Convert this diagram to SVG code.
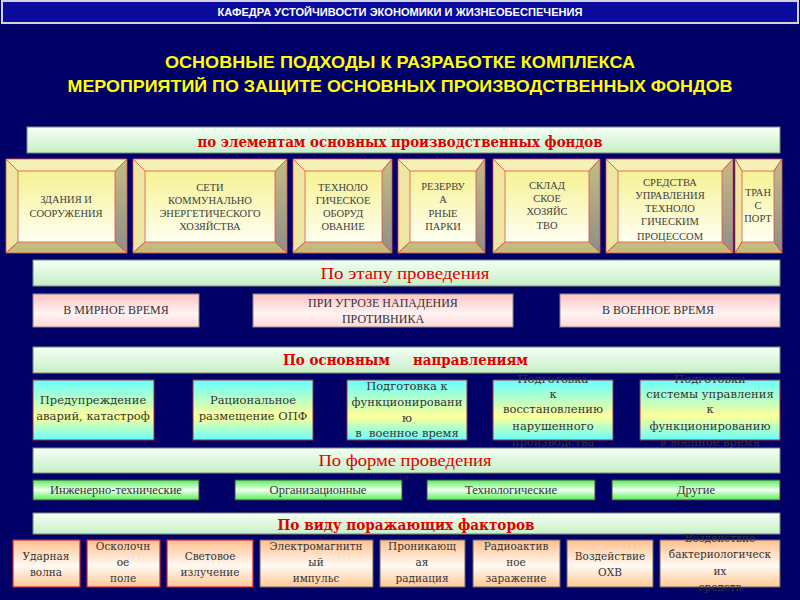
<svg xmlns="http://www.w3.org/2000/svg" width="800" height="600" viewBox="0 0 800 600">
<defs>
<linearGradient id="gHead" x1="0" y1="0" x2="0" y2="1"><stop offset="0" stop-color="#f6fff6"/><stop offset="1" stop-color="#c6efc6"/></linearGradient>
<linearGradient id="gInner" x1="0" y1="0" x2="0" y2="1"><stop offset="0" stop-color="#f6f294"/><stop offset="1" stop-color="#fffff2"/></linearGradient>
<linearGradient id="gRight" x1="0" y1="0" x2="0" y2="1"><stop offset="0" stop-color="#c4bc84"/><stop offset="1" stop-color="#8e8e88"/></linearGradient>
<linearGradient id="gPink" x1="0" y1="0" x2="0" y2="1"><stop offset="0" stop-color="#ffc4c4"/><stop offset="0.6" stop-color="#fff4f4"/><stop offset="1" stop-color="#ffd6d6"/></linearGradient>
<linearGradient id="gCyan" x1="0" y1="0" x2="0" y2="1"><stop offset="0" stop-color="#66ffff"/><stop offset="0.6" stop-color="#ffff99"/><stop offset="1" stop-color="#66ffff"/></linearGradient>
<linearGradient id="gGreen" x1="0" y1="0" x2="0" y2="1"><stop offset="0" stop-color="#55ee55"/><stop offset="0.5" stop-color="#f0fff0"/><stop offset="1" stop-color="#55ee55"/></linearGradient>
<linearGradient id="gPeach" x1="0" y1="0" x2="0" y2="1"><stop offset="0" stop-color="#ffc08c"/><stop offset="0.55" stop-color="#fffaf4"/><stop offset="1" stop-color="#ffc896"/></linearGradient>
</defs>
<style>
.head{fill:url(#gHead);stroke:#7a8a7a;stroke-width:1}
.ht{fill:#e00000;font-family:"Liberation Serif","DejaVu Serif",serif;font-size:17px;text-anchor:middle}
.htb{fill:#e00000;font-family:"DejaVu Serif","Liberation Serif",serif;font-size:14px;font-weight:bold;text-anchor:middle}
.top{fill:#f6f0b4;stroke:#e05050;stroke-width:0.8}
.left{fill:#efe6a2;stroke:#e05050;stroke-width:0.8}
.right{fill:url(#gRight);stroke:#e05050;stroke-width:0.8}
.bot{fill:#c4bc7c;stroke:#e05050;stroke-width:0.8}
.inner{fill:url(#gInner)}
.bt{fill:#404040;font-family:"Liberation Serif",serif;font-size:10.5px;text-anchor:middle}
.pink{fill:url(#gPink);stroke:#8a8a8a;stroke-width:1}
.pt{fill:#333;font-family:"Liberation Serif",serif;font-size:12px;text-anchor:middle}
.cyan{fill:url(#gCyan);stroke:#993344;stroke-width:1}
.ct{fill:#333;font-family:"DejaVu Serif",serif;font-size:11.5px;text-anchor:middle}
.green{fill:url(#gGreen);stroke:#444;stroke-width:1}
.gt{fill:#333;font-family:"Liberation Serif",serif;font-size:12.5px;text-anchor:middle}
.peach{fill:url(#gPeach);stroke:#666;stroke-width:1}
.peachr{fill:url(#gPeach);stroke:#cc2233;stroke-width:1.2}
.kt{fill:#333;font-family:"DejaVu Serif",serif;font-size:10.5px;text-anchor:middle}
</style>
<rect x="0" y="0" width="800" height="600" fill="#000066"/>
<g id="header">
<rect x="2" y="1" width="796" height="22" fill="#0a0a9c" stroke="#d0d0e0" stroke-width="2"/>
<text x="400" y="16" fill="#ffffff" font-family="Liberation Sans,Arial,sans-serif" font-size="11.5" font-weight="bold" text-anchor="middle" textLength="365" lengthAdjust="spacingAndGlyphs">КАФЕДРА УСТОЙЧИВОСТИ ЭКОНОМИКИ И ЖИЗНЕОБЕСПЕЧЕНИЯ</text>
</g>
<g id="title" fill="#ffff00" font-family="Liberation Sans,Arial,sans-serif" font-size="17" font-weight="bold" text-anchor="middle">
<text x="400" y="68" textLength="470" lengthAdjust="spacingAndGlyphs">ОСНОВНЫЕ ПОДХОДЫ К РАЗРАБОТКЕ КОМПЛЕКСА</text>
<text x="400" y="92" textLength="665" lengthAdjust="spacingAndGlyphs">МЕРОПРИЯТИЙ ПО ЗАЩИТЕ ОСНОВНЫХ ПРОИЗВОДСТВЕННЫХ  ФОНДОВ</text>
</g>

<g id="sec1">
<rect class="head" x="27" y="127" width="753" height="26"/>
<text class="htb" x="400" y="147" textLength="405" lengthAdjust="spacingAndGlyphs">по элементам основных производственных фондов</text>
</g>
<g id="b1">
<rect class="inner" x="18" y="171" width="97" height="71"/>
<text class="bt" x="66" y="203">ЗДАНИЯ И</text><text class="bt" x="66" y="217">СООРУЖЕНИЯ</text>
<polygon class="top" points="6,159 127,159 115,171 18,171"/><polygon class="left" points="6,159 18,171 18,242 6,253"/><polygon class="right" points="127,159 127,253 115,242 115,171"/><polygon class="bot" points="6,253 18,242 115,242 127,253"/>
</g>
<g id="b2">
<rect class="inner" x="145" y="171" width="130" height="71"/>
<text class="bt" x="210" y="191">СЕТИ</text><text class="bt" x="210" y="204">КОММУНАЛЬНО</text><text class="bt" x="210" y="217">ЭНЕРГЕТИЧЕСКОГО</text><text class="bt" x="210" y="230">ХОЗЯЙСТВА</text>
<polygon class="top" points="133,159 287,159 275,171 145,171"/><polygon class="left" points="133,159 145,171 145,242 133,253"/><polygon class="right" points="287,159 287,253 275,242 275,171"/><polygon class="bot" points="133,253 145,242 275,242 287,253"/>
</g>
<g id="b3">
<rect class="inner" x="305" y="171" width="77" height="71"/>
<text class="bt" x="343" y="191">ТЕХНОЛО</text><text class="bt" x="343" y="204">ГИЧЕСКОЕ</text><text class="bt" x="343" y="217">ОБОРУД</text><text class="bt" x="343" y="230">ОВАНИЕ</text>
<polygon class="top" points="293,159 392,159 382,171 305,171"/><polygon class="left" points="293,159 305,171 305,242 293,253"/><polygon class="right" points="392,159 392,253 382,242 382,171"/><polygon class="bot" points="293,253 305,242 382,242 392,253"/>
</g>
<g id="b4">
<rect class="inner" x="410" y="171" width="66" height="71"/>
<text class="bt" x="443" y="190">РЕЗЕРВУ</text><text class="bt" x="443" y="203">А</text><text class="bt" x="443" y="217">РНЫЕ</text><text class="bt" x="443" y="230">ПАРКИ</text>
<polygon class="top" points="398,159 485,159 476,171 410,171"/><polygon class="left" points="398,159 410,171 410,242 398,253"/><polygon class="right" points="485,159 485,253 476,242 476,171"/><polygon class="bot" points="398,253 410,242 476,242 485,253"/>
</g>
<g id="b5">
<rect class="inner" x="505" y="171" width="84" height="71"/>
<text class="bt" x="547" y="189">СКЛАД</text><text class="bt" x="547" y="202">СКОЕ</text><text class="bt" x="547" y="215">ХОЗЯЙС</text><text class="bt" x="547" y="229">ТВО</text>
<polygon class="top" points="493,159 600,159 589,171 505,171"/><polygon class="left" points="493,159 505,171 505,242 493,253"/><polygon class="right" points="600,159 600,253 589,242 589,171"/><polygon class="bot" points="493,253 505,242 589,242 600,253"/>
</g>
<g id="b6">
<rect class="inner" x="618" y="171" width="104" height="71"/>
<text class="bt" x="670" y="186">СРЕДСТВА</text><text class="bt" x="670" y="199">УПРАВЛЕНИЯ</text><text class="bt" x="670" y="212">ТЕХНОЛО</text><text class="bt" x="670" y="225">ГИЧЕСКИМ</text><text class="bt" x="670" y="240">ПРОЦЕССОМ</text>
<polygon class="top" points="606,159 733,159 722,171 618,171"/><polygon class="left" points="606,159 618,171 618,242 606,253"/><polygon class="right" points="733,159 733,253 722,242 722,171"/><polygon class="bot" points="606,253 618,242 722,242 733,253"/>
</g>
<g id="b7">
<rect class="inner" x="742" y="171" width="32" height="71"/>
<text class="bt" x="758" y="196">ТРАН</text><text class="bt" x="758" y="209">С</text><text class="bt" x="758" y="222">ПОРТ</text>
<polygon class="top" points="735,159 782,159 774,171 742,171"/><polygon class="left" points="735,159 742,171 742,242 735,253"/><polygon class="right" points="782,159 782,253 774,242 774,171"/><polygon class="bot" points="735,253 742,242 774,242 782,253"/>
</g>

<g id="sec2">
<rect class="head" x="33" y="260" width="747" height="26"/>
<text class="ht" x="405" y="279" textLength="169" lengthAdjust="spacingAndGlyphs">По этапу проведения</text>
</g>
<g id="s2a"><rect class="pink" x="33" y="294" width="166" height="33"/><text class="pt" x="116" y="314">В МИРНОЕ ВРЕМЯ</text></g>
<g id="s2b"><rect class="pink" x="253" y="294" width="260" height="33"/><text class="pt" x="383" y="307">ПРИ УГРОЗЕ НАПАДЕНИЯ</text><text class="pt" x="383" y="323">ПРОТИВНИКА</text></g>
<g id="s2c"><rect class="pink" x="560" y="294" width="220" height="33"/><text class="pt" x="658" y="314">В ВОЕННОЕ ВРЕМЯ</text></g>

<g id="sec3">
<rect class="head" x="33" y="347" width="747" height="26"/>
<text class="htb" x="283" y="365" style="text-anchor:start" textLength="107" lengthAdjust="spacingAndGlyphs">По основным</text>
<text class="htb" x="413" y="365" style="text-anchor:start" textLength="115" lengthAdjust="spacingAndGlyphs">направлениям</text>
</g>
<g id="s3a"><rect class="cyan" x="33" y="380" width="121" height="60"/><text class="ct" x="93" y="404">Предупреждение</text><text class="ct" x="93" y="420">аварий, катастроф</text></g>
<g id="s3b"><rect class="cyan" x="193" y="380" width="120" height="60"/><text class="ct" x="253" y="404">Рациональное</text><text class="ct" x="253" y="420">размещение ОПФ</text></g>
<g id="s3c"><rect class="cyan" x="347" y="380" width="120" height="60"/><text class="ct" x="407" y="390">Подготовка к</text><text class="ct" x="407" y="406">функционировани</text><text class="ct" x="407" y="422">ю</text><text class="ct" x="407" y="437" xml:space="preserve">в  военное время</text></g>
<g id="s3d"><rect class="cyan" x="493" y="380" width="120" height="60"/><text class="ct" x="553" y="383">Подготовка</text><text class="ct" x="553" y="398">к</text><text class="ct" x="553" y="413">восстановлению</text><text class="ct" x="553" y="430">нарушенного</text><text class="ct" x="553" y="446">производства</text></g>
<g id="s3e"><rect class="cyan" x="640" y="380" width="140" height="60"/><text class="ct" x="710" y="383">Подготовки</text><text class="ct" x="710" y="398">системы управления</text><text class="ct" x="710" y="413">к</text><text class="ct" x="710" y="430">функционированию</text><text class="ct" x="710" y="446">в военное время</text></g>

<g id="sec4">
<rect class="head" x="33" y="448" width="747" height="25"/>
<text class="ht" x="405" y="466" textLength="173" lengthAdjust="spacingAndGlyphs">По форме проведения</text>
</g>
<g id="s4a"><rect class="green" x="33" y="480" width="166" height="20"/><text class="gt" x="116" y="494">Инженерно-технические</text></g>
<g id="s4b"><rect class="green" x="235" y="480" width="167" height="20"/><text class="gt" x="318" y="494">Организационные</text></g>
<g id="s4c"><rect class="green" x="427" y="480" width="168" height="20"/><text class="gt" x="511" y="494">Технологические</text></g>
<g id="s4d"><rect class="green" x="612" y="480" width="168" height="20"/><text class="gt" x="696" y="494">Другие</text></g>

<g id="sec5">
<rect class="head" x="33" y="513" width="747" height="21"/>
<text class="htb" x="406" y="530" textLength="257" lengthAdjust="spacingAndGlyphs">По виду поражающих факторов</text>
</g>
<g id="s5a"><rect class="peachr" x="13" y="540" width="67" height="47"/><text class="kt" x="46" y="560">Ударная</text><text class="kt" x="46" y="576">волна</text></g>
<g id="s5b"><rect class="peachr" x="87" y="540" width="73" height="47"/><text class="kt" x="123" y="550">Осколочн</text><text class="kt" x="123" y="566">ое</text><text class="kt" x="123" y="582">поле</text></g>
<g id="s5c"><rect class="peachr" x="167" y="540" width="86" height="47"/><text class="kt" x="210" y="560">Световое</text><text class="kt" x="210" y="576">излучение</text></g>
<g id="s5d"><rect class="peach" x="260" y="540" width="113" height="47"/><text class="kt" x="316" y="550">Электромагнитн</text><text class="kt" x="316" y="566">ый</text><text class="kt" x="316" y="582">импульс</text></g>
<g id="s5e"><rect class="peach" x="380" y="540" width="85" height="47"/><text class="kt" x="422" y="550">Проникающ</text><text class="kt" x="422" y="566">ая</text><text class="kt" x="422" y="582">радиация</text></g>
<g id="s5f"><rect class="peach" x="473" y="540" width="87" height="47"/><text class="kt" x="516" y="550">Радиоактив</text><text class="kt" x="516" y="566">ное</text><text class="kt" x="516" y="582">заражение</text></g>
<g id="s5g"><rect class="peach" x="567" y="540" width="86" height="47"/><text class="kt" x="610" y="560">Воздействие</text><text class="kt" x="610" y="576">ОХВ</text></g>
<g id="s5h"><rect class="peach" x="660" y="540" width="120" height="47"/><text class="kt" x="720" y="542">Воздействие</text><text class="kt" x="720" y="558">бактериологическ</text><text class="kt" x="720" y="575">их</text><text class="kt" x="720" y="591">средств</text></g>
<g id="connectors"/>
</svg>
